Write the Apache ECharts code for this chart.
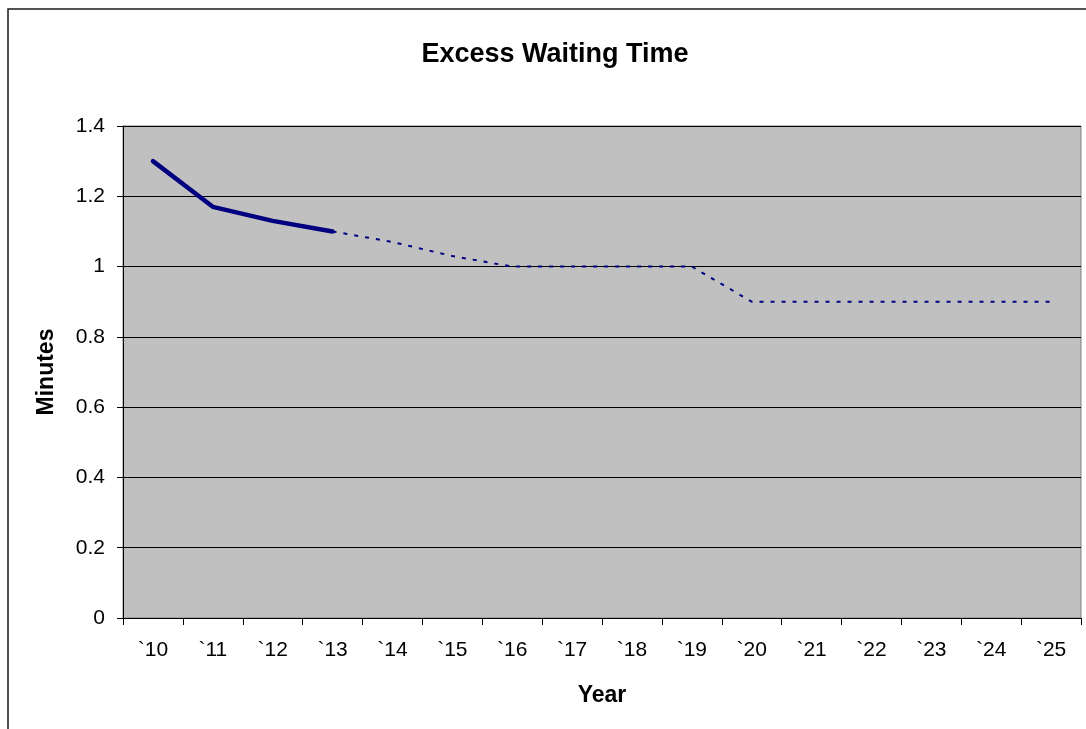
<!DOCTYPE html>
<html>
<head>
<meta charset="utf-8">
<title>Excess Waiting Time</title>
<script src="https://cdn.jsdelivr.net/npm/echarts@6/dist/echarts.min.js"></script>
<style>
  html, body { margin: 0; padding: 0; background: #ffffff; }
  #chart { width: 1086px; height: 729px; }
</style>
</head>
<body>
<div id="chart"></div>
<script>
// Years on the category axis
const years = ['`10', '`11', '`12', '`13', '`14', '`15', '`16', '`17',
               '`18', '`19', '`20', '`21', '`22', '`23', '`24', '`25'];

// Recorded values (solid line)
const actual = [1.3, 1.17, 1.13, 1.1, null, null, null, null,
                null, null, null, null, null, null, null, null];

// Targets from 2013 onward (dotted line)
const target = [null, null, null, 1.1, 1.07, 1.03, 1.0, 1.0,
                1.0, 1.0, 0.9, 0.9, 0.9, 0.9, 0.9, 0.9];

const FONT = '"Liberation Sans", Arial, sans-serif';
const NAVY = '#000080';

const chart = echarts.init(document.getElementById('chart'), null, { renderer: 'canvas' });

chart.setOption({
  animation: false,
  backgroundColor: '#ffffff',
  graphic: [{
    type: 'rect',
    shape: { x: 8, y: 9, width: 1200, height: 800 },
    style: { fill: 'none', stroke: '#1a1a1a', lineWidth: 1.5 },
    silent: true,
    z: 100
  }],
  title: {
    text: 'Excess Waiting Time',
    left: 550,
    textAlign: 'center',
    top: 36,
    textStyle: { fontFamily: FONT, fontSize: 27, fontWeight: 'bold', color: '#000' }
  },
  grid: {
    left: 123, top: 126, right: 5, bottom: 111,
    show: true,
    backgroundColor: '#c0c0c0',
    borderColor: '#808080',
    borderWidth: 1
  },
  xAxis: {
    type: 'category',
    data: years,
    boundaryGap: true,
    name: 'Year',
    nameLocation: 'middle',
    nameGap: 66,
    nameTextStyle: { fontFamily: FONT, fontSize: 23, fontWeight: 'bold', color: '#000' },
    axisLine: { show: true, lineStyle: { color: '#000', width: 1 } },
    axisTick: { show: true, length: 7, interval: 0, lineStyle: { color: '#000' } },
    axisLabel: { interval: 0, margin: 22, fontFamily: FONT, fontSize: 21, color: '#000' },
    splitLine: { show: false }
  },
  yAxis: {
    type: 'value',
    min: 0, max: 1.4, interval: 0.2,
    name: 'Minutes',
    nameLocation: 'middle',
    nameGap: 65,
    nameRotate: 90,
    nameTextStyle: { fontFamily: FONT, fontSize: 23, fontWeight: 'bold', color: '#000' },
    axisLine: { show: true, lineStyle: { color: '#000', width: 1 } },
    axisTick: { show: true, length: 6, lineStyle: { color: '#000' } },
    axisLabel: { margin: 18, fontFamily: FONT, fontSize: 21, color: '#000' },
    splitLine: { show: true, lineStyle: { color: '#000', width: 1 } }
  },
  series: [
    {
      name: 'Actual',
      type: 'line',
      data: actual,
      symbol: 'none',
      connectNulls: false,
      lineStyle: { color: NAVY, width: 4.5, cap: 'round', join: 'round' },
      z: 3
    },
    {
      name: 'Target',
      type: 'line',
      data: target,
      symbol: 'none',
      connectNulls: false,
      lineStyle: { color: NAVY, width: 2, type: [4, 7] },
      z: 2
    }
  ]
});
</script>
</body>
</html>
